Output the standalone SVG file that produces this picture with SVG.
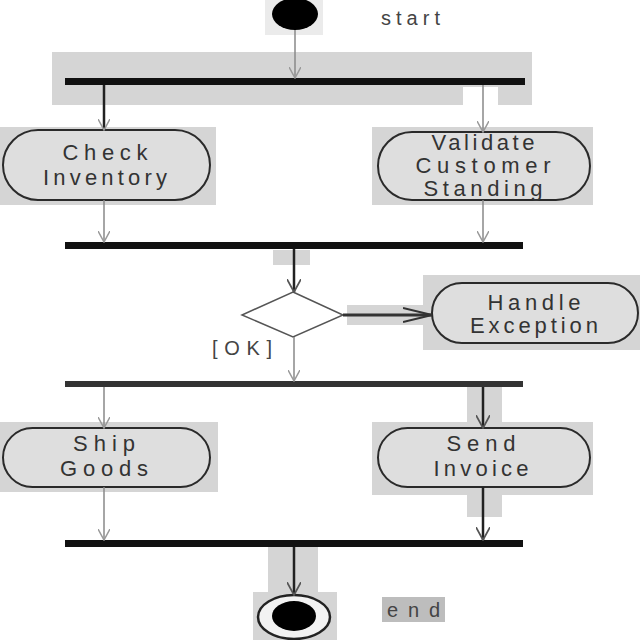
<svg xmlns="http://www.w3.org/2000/svg" width="640" height="640" viewBox="0 0 640 640">
<defs>
<style>
.hl{fill:#d5d5d5}
.act{fill:#dedede;stroke:#2a2a2a;stroke-width:2}
.bar{fill:#111}
.t{font-family:"Liberation Sans",Arial,sans-serif;font-size:22px;fill:#333;text-anchor:middle}
.lbl{font-family:"Liberation Sans",Arial,sans-serif;font-size:20px;fill:#444}
.fl{stroke:#888;stroke-width:1.5;fill:none}
.fd{stroke:#222;stroke-width:2.5;fill:none}
</style>
<marker id="ah" viewBox="0 0 12 12" refX="11" refY="6" markerWidth="12" markerHeight="12" markerUnits="userSpaceOnUse" orient="auto">
<path d="M0,0 L11,6 L0,12" fill="none" stroke="#999" stroke-width="1.5"/>
</marker>
<marker id="ahd" viewBox="0 0 12 12" refX="11" refY="6" markerWidth="14" markerHeight="14" markerUnits="userSpaceOnUse" orient="auto">
<path d="M0,0 L11,6 L0,12" fill="none" stroke="#555" stroke-width="1.5"/>
</marker>
<marker id="ahx" viewBox="0 0 30 16" refX="29" refY="8" markerWidth="30" markerHeight="16" markerUnits="userSpaceOnUse" orient="auto">
<path d="M0,1 L29,8 L0,15" fill="none" stroke="#333" stroke-width="2"/>
</marker>
</defs>
<rect width="640" height="640" fill="#fff"/>

<g id="highlights">
<rect class="hl" x="52" y="52" width="411" height="53"/>
<rect class="hl" x="498" y="52" width="34" height="53"/>
<rect class="hl" x="463" y="52" width="35" height="35"/>
<rect class="hl" x="273" y="250" width="37" height="15"/>
<rect class="hl" x="347" y="305" width="83" height="20"/>
<rect class="hl" x="467" y="387" width="35" height="35"/>
<rect class="hl" x="467" y="495" width="35" height="22"/>
<rect class="hl" x="268" y="547" width="50" height="45"/>
</g>

<g id="start">
<rect x="265" y="0" width="58" height="35" fill="#ebebeb"/>
<ellipse cx="295" cy="14" rx="23" ry="16" fill="#000"/>
<text class="lbl" x="381" y="25" textLength="59" lengthAdjust="spacing">start</text>
</g>

<g id="fork1"><rect class="bar" x="65" y="78" width="460" height="7"/></g>

<g id="checkInventory">
<rect class="hl" x="0" y="127" width="216" height="78"/>
<rect class="act" x="3" y="130" width="207" height="70" rx="35" ry="35"/>
<text class="t" x="105" y="160" textLength="85" lengthAdjust="spacing">Check</text>
<text class="t" x="105" y="185" textLength="124" lengthAdjust="spacing">Inventory</text>
</g>

<g id="validateCustomer">
<rect class="hl" x="372" y="127" width="221" height="78"/>
<rect class="act" x="378" y="132" width="212" height="68" rx="34" ry="34"/>
<text class="t" x="483" y="150" textLength="103" lengthAdjust="spacing">Validate</text>
<text class="t" x="483" y="173" textLength="135" lengthAdjust="spacing">Customer</text>
<text class="t" x="483" y="196" textLength="119" lengthAdjust="spacing">Standing</text>
</g>

<g id="join1"><rect class="bar" x="65" y="242" width="458" height="7"/></g>

<g id="decision">
<polygon points="293,292 343,315 293,337 242,315" fill="#fff" stroke="#555" stroke-width="1.5"/>
<text class="lbl" x="212" y="355" textLength="60" lengthAdjust="spacing">[OK]</text>
</g>

<g id="handleException">
<rect class="hl" x="423" y="275" width="217" height="75"/>
<rect class="act" x="432" y="283" width="206" height="60" rx="30" ry="30"/>
<text class="t" x="534" y="310" textLength="93" lengthAdjust="spacing">Handle</text>
<text class="t" x="534" y="333" textLength="128" lengthAdjust="spacing">Exception</text>
</g>

<g id="fork2"><rect x="65" y="381" width="458" height="6" fill="#333"/></g>

<g id="shipGoods">
<rect class="hl" x="0" y="422" width="218" height="70"/>
<rect class="act" x="3" y="428" width="207" height="59" rx="29.5" ry="29.5"/>
<text class="t" x="104" y="451" textLength="62" lengthAdjust="spacing">Ship</text>
<text class="t" x="104" y="476" textLength="88" lengthAdjust="spacing">Goods</text>
</g>

<g id="sendInvoice">
<rect class="hl" x="372" y="422" width="221" height="73"/>
<rect class="act" x="378" y="428" width="212" height="59" rx="29.5" ry="29.5"/>
<text class="t" x="481" y="451" textLength="69" lengthAdjust="spacing">Send</text>
<text class="t" x="481" y="476" textLength="95" lengthAdjust="spacing">Invoice</text>
</g>

<g id="join2"><rect class="bar" x="65" y="540" width="458" height="7"/></g>

<g id="end">
<rect class="hl" x="253" y="592" width="84" height="48"/>
<ellipse cx="294" cy="617" rx="36" ry="22" fill="#f2f2f2" stroke="#222" stroke-width="2.5"/>
<ellipse cx="294" cy="616" rx="22" ry="15" fill="#000"/>
<rect x="382" y="597" width="63" height="25" fill="#bdbdbd"/>
<text class="lbl" x="387" y="617" textLength="53" lengthAdjust="spacing">end</text>
</g>

<g id="connectors">
<line class="fl" x1="295" y1="30" x2="295" y2="78" marker-end="url(#ah)"/>
<line class="fd" x1="104" y1="85" x2="104" y2="130" marker-end="url(#ah)"/>
<line class="fl" x1="483" y1="85" x2="483" y2="132" marker-end="url(#ah)"/>
<line class="fl" x1="104" y1="200" x2="104" y2="242" marker-end="url(#ah)"/>
<line class="fl" x1="483" y1="200" x2="483" y2="242" marker-end="url(#ah)"/>
<line class="fd" x1="294" y1="249" x2="294" y2="292" marker-end="url(#ahd)"/>
<line x1="343" y1="315" x2="432" y2="315" stroke="#333" stroke-width="3" marker-end="url(#ahx)"/>
<line class="fl" x1="294" y1="337" x2="294" y2="381" marker-end="url(#ah)"/>
<line class="fl" x1="104" y1="387" x2="104" y2="428" marker-end="url(#ah)"/>
<line class="fd" x1="483" y1="387" x2="483" y2="428" marker-end="url(#ahd)"/>
<line class="fl" x1="104" y1="487" x2="104" y2="540" marker-end="url(#ah)"/>
<line class="fd" x1="483" y1="487" x2="483" y2="540" marker-end="url(#ahd)"/>
<line class="fd" x1="294" y1="547" x2="294" y2="595" marker-end="url(#ahd)"/>
</g>
</svg>
